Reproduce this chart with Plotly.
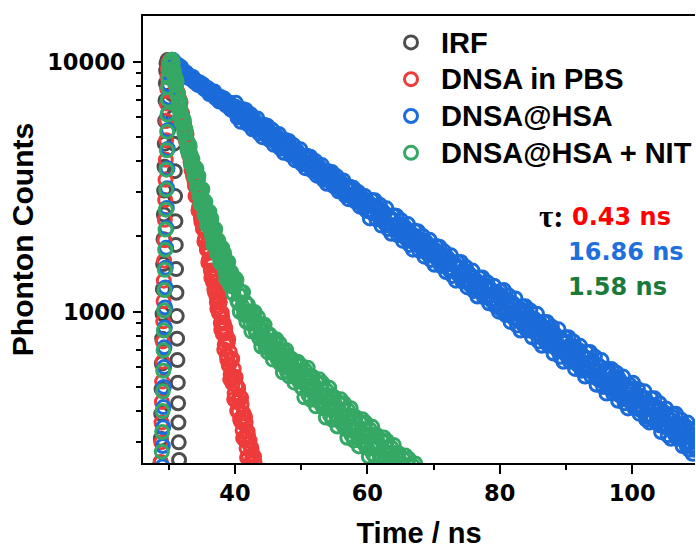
import numpy as np
import plotly.graph_objects as go

# Fluorescence decay (TCSPC) data, counts per channel.
# Each segment is stored as start time, channel step (ns) and counts;
# the "_b" lists are the interleaved channels (offset by half a step).

# IRF
irf_rise_start, irf_rise_step = 28.75, 0.05
irf_rise = [250, 310, 390, 490, 620, 780, 980, 1230, 1550, 1950, 2450, 3050,
            3800, 4700, 5800, 7000, 8200, 9200, 9850]
irf_fall_t = [29.8, 30.0, 30.2, 30.4, 30.55, 30.7, 30.8, 30.9, 30.95, 31.0, 31.05,
              31.1, 31.15, 31.2, 31.25, 31.3, 31.35, 31.4, 31.45, 31.5, 31.55, 31.6]
irf_fall = [10150, 10100, 9600, 8700, 7400, 6000, 4700, 3650, 2900, 2300, 1850,
            1480, 1190, 960, 780, 640, 520, 430, 360, 300, 255, 215]

# DNSA in PBS
pbs_rise_start, pbs_rise_step = 28.80, 0.05
pbs_rise = [250, 300, 360, 435, 525, 630, 760, 915, 1100, 1330, 1600, 1930, 2330,
            2800, 3370, 4050, 4850, 5800, 6800, 7800, 8700, 9400]
pbs_peak_t = [29.95, 30.1, 30.25, 30.38]
pbs_peak = [9900, 10100, 10120, 10050]
pbs_decay_start, pbs_decay_step = 30.50, 0.15
pbs_decay = [
    9850, 9250, 9020, 8380, 8210, 7600, 7480, 6900, 6850, 6280,
    6230, 5690, 5680, 5150, 5190, 4700, 4720, 4240, 4310, 3870,
    3930, 3500, 3580, 3180, 3270, 2880, 2990, 2610, 2720, 2370,
    2490, 2150, 2270, 1950, 2070, 1770, 1890, 1610, 1720, 1460,
    1570, 1320, 1430, 1200, 1310, 1090, 1190, 990, 1090, 900,
    990, 815, 900, 740, 820, 670, 750, 610, 690, 560,
    640, 515, 590, 470, 545, 435, 500, 400, 460, 365,
    425, 335, 392, 308, 360, 284, 332, 262, 305, 240,
    282, 268, 212, 250, 195]
pbs_decay_b_start = 30.575
pbs_decay_b = [
    9030, 9490, 8790, 7990, 8380, 7400, 6800, 7060, 6890, 6200,
    5590, 5880, 5510, 4890, 5130, 4750, 4320, 4530, 4000, 3680,
    3890, 3860, 3340, 2900, 3250, 3020, 2540, 2850, 2590, 2280,
    2540, 2140, 1910, 2110, 2080, 1810, 1570, 1760, 1630, 1370,
    1540, 1400, 1230, 1370, 1160, 1030, 1140, 1130, 976, 846,
    951, 895, 706, 860, 764, 644, 777, 617, 536, 640,
    648, 540, 446, 549, 506, 401, 492, 440, 372, 452,
    360, 312, 373, 378, 314, 261, 320, 295, 234, 287,
    256, 217, 263, 209, 183]

# DNSA@HSA
hsa_rise_start, hsa_rise_step = 29.05, 0.05
hsa_rise = [240, 290, 345, 415, 500, 600, 720, 865, 1040, 1250, 1500, 1800, 2160,
            2600, 3120, 3740, 4480, 5330, 6250, 7200, 8100, 8850, 9450, 9850]
hsa_peak_t = [30.35, 30.5, 30.65, 30.8]
hsa_peak = [10100, 10180, 10150, 10000]
hsa_decay_start, hsa_decay_step = 31.0, 0.25
hsa_decay = [
    9800, 9650, 9600, 9380, 9200, 8980, 9030, 8870, 8820, 8560, 8590, 8400,
    8420, 8300, 8110, 8160, 7960, 8010, 7790, 7700, 7740, 7520, 7560, 7350,
    7290, 7330, 7110, 7150, 7100, 6880, 6920, 6730, 6700, 6760, 6510, 6540,
    6620, 6180, 6350, 6090, 6300, 5960, 6140, 5860, 5780, 6010, 5650, 5830,
    5740, 5420, 5630, 5360, 5300, 5470, 5150, 5330, 5290, 4990, 5150, 4890,
    4850, 5040, 4720, 4870, 4820, 4580, 4740, 4480, 4440, 4600, 4310, 4460,
    4430, 4190, 4330, 4090, 4060, 4210, 3950, 4110, 4070, 3820, 3960, 3740,
    3710, 3860, 3610, 3760, 3720, 3500, 3630, 3430, 3400, 3540, 3310, 3440,
    3420, 3200, 3330, 3130, 3110, 3240, 3020, 3160, 3130, 2930, 3060, 2870,
    2850, 2970, 2770, 2890, 2870, 2690, 2800, 2620, 2760, 2540, 2690, 2480,
    2470, 2640, 2580, 2400, 2530, 2330, 2460, 2280, 2260, 2400, 2200, 2340,
    2320, 2220, 2140, 2090, 2070, 2190, 2010, 2150, 2130, 1950, 2070, 1910,
    1890, 2010, 1960, 1850, 1950, 1790, 1900, 1740, 1730, 1840, 1690, 1800,
    1790, 1700, 1630, 1600, 1580, 1690, 1540, 1650, 1640, 1490, 1600, 1460,
    1450, 1550, 1510, 1410, 1500, 1370, 1460, 1340, 1330, 1420, 1290, 1390,
    1370, 1300, 1250, 1220, 1210, 1300, 1180, 1270, 1260, 1140, 1230, 1120,
    1110, 1190, 1160, 1090, 1170, 1020, 1130, 1000, 1000, 1110, 970, 1080,
    1080, 1000, 940, 920, 920, 1020, 890, 990, 990, 860, 950, 840,
    840, 930, 900, 810, 910, 790, 870, 770, 770, 850, 750, 820,
    830, 760, 720, 700, 710, 780, 690, 750, 760, 660, 730, 650,
    650, 710, 690, 630, 700, 600, 670, 590, 590, 650, 580, 630,
    640, 590, 550, 540, 540, 600, 530, 580, 590, 500, 560, 490,
    500, 550, 530, 480, 540, 460, 510, 450, 450, 500, 440, 480,
    490, 450, 420, 410, 420, 460, 400, 450, 450, 380, 430, 380,
    380, 420, 410, 370, 410, 350, 390, 350, 350, 380, 340, 370,
    380, 350, 320, 320, 320, 350, 310, 340, 350, 290, 330, 300,
    290, 320, 280, 310]
hsa_decay_b_start = 31.125
hsa_decay_b = [
    9510, 9730, 9390, 9520, 8970, 9040, 9060, 8640, 8800, 8530, 8690, 8290,
    8380, 8080, 8280, 8010, 8130, 7780, 7830, 7850, 7430, 7660, 7350, 7600,
    7130, 7290, 6930, 7230, 6930, 7120, 6690, 6800, 6870, 6430, 6640, 6370,
    6850, 5980, 6390, 5750, 6470, 5930, 6410, 5630, 5940, 6160, 5370, 5870,
    5410, 5930, 5180, 5540, 4990, 5600, 5140, 5550, 4880, 5150, 5340, 4650,
    5090, 4690, 5140, 4490, 4800, 4320, 4860, 4450, 4820, 4230, 4460, 4630,
    4030, 4410, 4060, 4460, 3890, 4160, 3750, 4210, 3860, 4170, 3670, 3870,
    4010, 3500, 3820, 3520, 3860, 3370, 3610, 3250, 3650, 3350, 3620, 3180,
    3350, 3480, 3030, 3310, 3050, 3350, 2920, 3130, 2820, 3160, 2900, 3130,
    2760, 2910, 3010, 2630, 2870, 2650, 2900, 2530, 2730, 2360, 2800, 2490,
    2790, 2340, 2530, 2680, 2210, 2520, 2260, 2590, 2140, 2370, 2050, 2430,
    2160, 2420, 2020, 2200, 2320, 1920, 2190, 1960, 2240, 1850, 2050, 1770,
    2110, 1870, 2100, 1750, 1900, 2010, 1660, 1900, 1700, 1940, 1610, 1780,
    1540, 1830, 1620, 1820, 1520, 1650, 1740, 1440, 1640, 1470, 1680, 1390,
    1540, 1330, 1580, 1400, 1580, 1320, 1430, 1510, 1250, 1420, 1270, 1460,
    1210, 1340, 1150, 1370, 1220, 1370, 1140, 1240, 1310, 1080, 1230, 1100,
    1270, 1050, 1160, 1000, 1210, 1050, 1220, 970, 1080, 1160, 910, 1080,
    940, 1130, 880, 1010, 840, 1050, 910, 1050, 840, 940, 1010, 790,
    940, 820, 980, 760, 880, 730, 910, 790, 910, 730, 810, 870,
    680, 810, 710, 850, 660, 760, 630, 790, 680, 790, 630, 700,
    760, 590, 710, 610, 730, 580, 660, 550, 690, 590, 690, 550,
    610, 660, 510, 610, 530, 640, 500, 570, 470, 590, 510, 590,
    470, 530, 570, 440, 530, 460, 550, 430, 500, 410, 510, 440,
    520, 410, 460, 490, 390, 460, 400, 480, 370, 430, 360, 450,
    380, 450, 360, 400, 430, 330, 400, 350, 410, 320, 370, 310,
    390, 330, 390, 310, 340, 370, 290, 350, 300, 360, 280, 320,
    270, 340, 290, 340]

# DNSA@HSA + NIT
nit_rise_start, nit_rise_step = 28.90, 0.05
nit_rise = [230, 275, 330, 400, 480, 580, 700, 840, 1010, 1220, 1470, 1770, 2130,
            2560, 3080, 3700, 4420, 5250, 6150, 7050, 7900, 8650, 9250]
nit_peak_t = [30.1, 30.2, 30.3, 30.4]
nit_peak = [9700, 10000, 10150, 10180]
nit_early_start, nit_early_step = 30.50, 0.15
nit_early = [
    10150, 9400, 9090, 8740, 8045, 7520, 7380, 6850, 6580, 6115,
    5995, 5650, 5355, 5260, 4910, 4835, 4725, 4425, 4210, 4200,
    3965, 3875, 3665, 3655,
    3470, 3255, 3350, 3005, 3075, 3090, 2795, 2630, 2795, 2585,
    2585, 2375, 2500, 2325, 2190, 2265, 2040, 2100, 2125, 1930,
    1825, 1950, 1810, 1820, 1680, 1775, 1660, 1575, 1635, 1480,
    1530, 1555, 1420, 1350, 1445, 1345, 1360, 1260, 1335, 1255]
nit_early_b_start = 30.575
nit_early_b = [
    9900, 8980, 8280, 8540, 8360, 7330, 6730, 6990, 6400, 5720,
    5980, 5850, 5150, 5370, 4730, 4440, 4660, 4640, 4140, 3860,
    4080, 3800, 3460, 3660, 3740, 3140, 3490, 2910, 2700, 3010,
    3090, 2650, 2440, 2750, 2520, 2210, 2500, 2510, 2120, 2360,
    1980, 1850, 2080, 2140, 1840, 1700, 1930, 1780, 1570, 1780,
    1800, 1530, 1710, 1440, 1350, 1530, 1580, 1360, 1270, 1440,
    1330, 1180, 1340, 1360]
nit_late_start, nit_late_step = 40.10, 0.25
nit_late = [
    1290, 1105, 1170, 1205, 1050, 970, 1090, 980, 1000, 895,
    990, 905, 840, 910, 790, 845, 880, 775, 720, 815,
    740, 765, 685, 765, 705, 660, 710, 620, 665, 695,
    615, 575, 650, 595, 615, 555, 620, 570, 535, 580,
    497, 549, 584, 502, 464, 549, 491, 514, 453, 523,
    473, 438, 488, 412, 456, 484, 417, 385, 456, 408,
    426, 376, 434, 393, 364, 405, 342, 378, 403, 346,
    320, 378, 338, 355, 312, 362, 328, 304, 338, 287,
    317, 338, 291, 269, 320, 286, 300, 265, 306, 277,
    258, 286, 243, 268, 286, 247, 228, 270, 242, 254,
    224, 259, 235, 218, 243, 206, 227, 242, 208]
nit_late_b_start = 40.225
nit_late_b = [
    1341, 1088, 999, 1154, 1196, 1001, 911, 1063, 968, 834,
    980, 996, 823, 951, 780, 725, 846, 886, 747, 687,
    810, 743, 643, 760, 776, 644, 746, 614, 572, 670,
    703, 596, 550, 650, 598, 520, 616, 631, 525, 609,
    493, 454, 559, 597, 489, 444, 549, 497, 418, 519,
    536, 428, 518, 410, 377, 463, 496, 406, 369, 456,
    413, 347, 431, 446, 355, 430, 339, 313, 385, 411,
    336, 305, 379, 343, 289, 360, 371, 297, 360, 285,
    263, 323, 346, 284, 259, 320, 290, 245, 304, 314,
    252, 304, 241, 222, 273, 293, 240, 218, 271, 246,
    207, 257, 266, 213, 258, 204, 188, 231, 247]

x_ticks = [40, 60, 80, 100]
x_minor = [30, 50, 70, 90]
y_ticks = [1000, 10000]
y_minor = [300, 400, 500, 600, 700, 800, 900,
           2000, 3000, 4000, 5000, 6000, 7000, 8000, 9000]


def grid(start, step, values):
    return list(np.round(start + step * np.arange(len(values)), 3))


irf_t = grid(irf_rise_start, irf_rise_step, irf_rise) + irf_fall_t
irf_c = irf_rise + irf_fall

pbs_t = (grid(pbs_rise_start, pbs_rise_step, pbs_rise) + pbs_peak_t
         + grid(pbs_decay_start, pbs_decay_step, pbs_decay)
         + grid(pbs_decay_b_start, pbs_decay_step, pbs_decay_b))
pbs_c = pbs_rise + pbs_peak + pbs_decay + pbs_decay_b

hsa_t = (grid(hsa_rise_start, hsa_rise_step, hsa_rise) + hsa_peak_t
         + grid(hsa_decay_start, hsa_decay_step, hsa_decay)
         + grid(hsa_decay_b_start, hsa_decay_step, hsa_decay_b))
hsa_c = hsa_rise + hsa_peak + hsa_decay + hsa_decay_b

nit_t = (grid(nit_rise_start, nit_rise_step, nit_rise) + nit_peak_t
         + grid(nit_early_start, nit_early_step, nit_early)
         + grid(nit_early_b_start, nit_early_step, nit_early_b)
         + grid(nit_late_start, nit_late_step, nit_late)
         + grid(nit_late_b_start, nit_late_step, nit_late_b))
nit_c = nit_rise + nit_peak + nit_early + nit_early_b + nit_late + nit_late_b

FONT = "Liberation Sans, Arial, sans-serif"
WIDE = "DejaVu Sans, Verdana, sans-serif"
SERIF = "Liberation Serif, Times New Roman, serif"


def big(label):
    return "<span style='font-size:29px'>" + label + "</span>"


series = [
    ("IRF", irf_t, irf_c, "#4d4d4d"),
    ("DNSA in PBS", pbs_t, pbs_c, "#ee3b3b"),
    ("DNSA@HSA", hsa_t, hsa_c, "#1b6bd9"),
    ("DNSA@HSA + NIT", nit_t, nit_c, "#36a865"),
]

fig = go.Figure()
for name, t, c, col in series:
    fig.add_trace(go.Scatter(
        x=t, y=c, name=big(name), mode="markers",
        marker=dict(symbol="circle-open", size=13, color=col,
                    line=dict(width=3, color=col)),
    ))

# plot area in pixels: x 143..695, y 16..463
L, R, T, B = 143, 695, 16, 463
W, H = 696, 554


def px_x(p):
    return (p - L) / (R - L)


def px_y(p):
    return (B - p) / (B - T)


def label(text, x, y, family, size, color):
    return dict(x=px_x(x), y=px_y(y), xref="paper", yref="paper",
                xanchor="left", yanchor="middle", align="left",
                showarrow=False, text=text,
                font=dict(family=family, size=size, weight="bold", color=color))


annotations = [
    label("τ:", 537, 216, SERIF, 31, "black"),
    label("0.43 ns", 570, 217, WIDE, 24, "#ff0000"),
    label("16.86 ns", 566, 252, WIDE, 24, "#1f6fdc"),
    label("1.58 ns", 566, 287, WIDE, 24, "#1a7a3a"),
]

fig.update_layout(
    width=W, height=H,
    margin=dict(l=L, r=W - R, t=T, b=H - B, pad=0, autoexpand=False),
    paper_bgcolor="white", plot_bgcolor="white",
    font=dict(family=FONT, color="black"),
    showlegend=True,
    legend=dict(x=px_x(381), y=px_y(19), xanchor="left", yanchor="top",
                bgcolor="rgba(0,0,0,0)", tracegroupgap=0, itemwidth=50,
                font=dict(family=FONT, size=26, weight="bold", color="black")),
    annotations=annotations,
    xaxis=dict(
        range=[26.1, 109.5], tickvals=x_ticks, ticks="outside", ticklen=9,
        tickwidth=2, tickcolor="black", showline=True, linewidth=2,
        linecolor="black", mirror=True, showgrid=False, zeroline=False,
        tickfont=dict(family=WIDE, size=22.5, weight="bold"),
        minor=dict(tickvals=x_minor, ticks="outside", ticklen=5,
                   tickwidth=2, tickcolor="black"),
        title=dict(text="Time / ns", standoff=18,
                   font=dict(family=FONT, size=29, weight="bold")),
    ),
    yaxis=dict(
        type="log", range=[np.log10(248), np.log10(15240)],
        tickvals=y_ticks, ticktext=["1000", "10000"], ticks="outside",
        ticklen=8, tickwidth=2, tickcolor="black", showline=True,
        linewidth=2, linecolor="black", mirror=False, showgrid=False,
        zeroline=False, ticklabelstandoff=3,
        tickfont=dict(family=WIDE, size=22.5, weight="bold"),
        minor=dict(tickvals=y_minor, ticks="outside", ticklen=5,
                   tickwidth=2, tickcolor="black"),
        title=dict(text="Phonton Counts", standoff=5,
                   font=dict(family=FONT, size=30, weight="bold")),
    ),
)

fig.write_html("out.html")
